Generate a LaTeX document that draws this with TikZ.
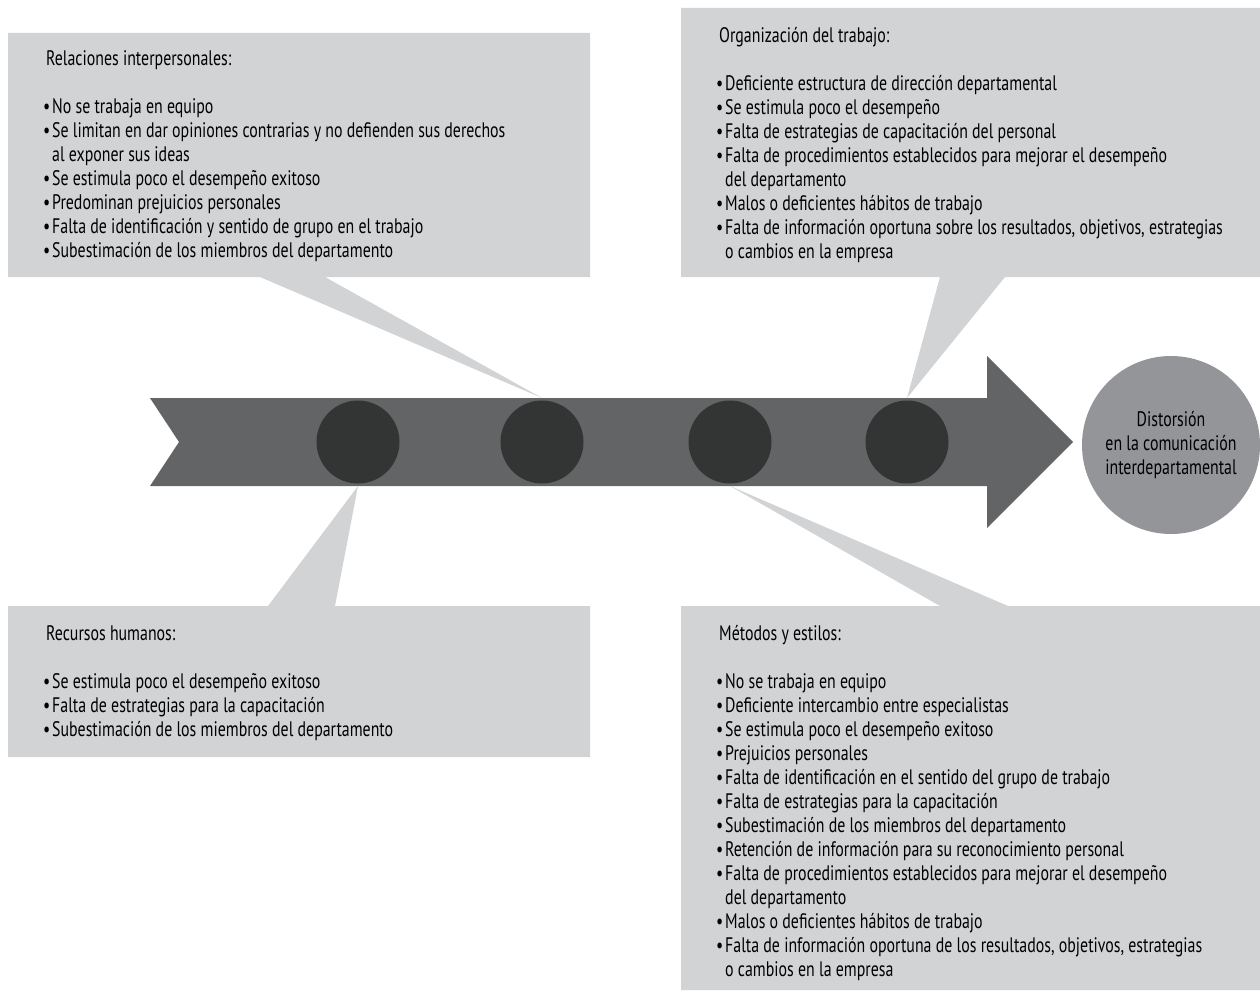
\documentclass[tikz,border=0pt]{standalone}
\usepackage{fontspec}
\setmainfont[FakeStretch=0.756]{PT Sans}
\usepackage{xcolor}
\usetikzlibrary{positioning}

\definecolor{boxgray}{HTML}{D1D3D4}
\definecolor{spinegray}{HTML}{636466}
\definecolor{dotgray}{HTML}{333535}
\definecolor{effgray}{HTML}{939598}

\newcommand{\bul}{\makebox[9pt][l]{\textbullet}}
\newcommand{\cont}{\hspace*{9pt}}

\begin{document}
\begin{tikzpicture}[x=1pt,y=-1pt,
  box/.style={fill=boxgray},
  txt/.style={anchor=base west,align=left,inner sep=0pt,font=\fontsize{21}{24}\selectfont},
  dot/.style={circle,fill=dotgray,minimum size=83pt,inner sep=0pt}]
  \useasboundingbox (0,0) rectangle (1260,990);
  % spine of the diagram
  \fill[spinegray] (150,398) -- (987,398) -- (987,356) -- (1073,442) -- (987,528)
    -- (987,486) -- (150,486) -- (179,442) -- cycle;
  \coordinate (top) at (0,398);
  \coordinate (bot) at (0,486);
  \foreach \x/\n in {358/1,542/2,730/3,907/4}
    \node[dot] (c\n) at (\x,442) {};
  \node[circle,fill=effgray,minimum size=178pt,inner sep=0pt,align=center,
    font=\fontsize{21}{24}\selectfont] (eff) at (1171,445)
    {Distorsión\\en la comunicación\\interdepartamental};

  % boxes with their tails
  \fill[box] (8,33) rectangle (590,277) (260,277) -- (c2 |- top) -- (325,277) -- cycle;
  \fill[box] (681,8) rectangle (1260,277) (940,277) -- (c4 |- top) -- (1005,277) -- cycle;
  \fill[box] (8,606) rectangle (590,757) (268,606) -- (c1 |- bot) -- (335,606) -- cycle;
  \fill[box] (681,606) rectangle (1260,990) (940,606) -- (c3 |- bot) -- (1008,606) -- cycle;

  % texts, placed by the baseline of their last line
  \node[txt] (rel) at (43,257) {\hspace*{3pt}Relaciones interpersonales:\\[24pt]
    \bul No se trabaja en equipo\\
    \bul Se limitan en dar opiniones contrarias y no defienden sus derechos\\
    \cont al exponer sus ideas\\
    \bul Se estimula poco el desempeño exitoso\\
    \bul Predominan prejuicios personales\\
    \bul Falta de identificación y sentido de grupo en el trabajo\\
    \bul Subestimación de los miembros del departamento};

  \node[txt] (org) at (716,258) {\hspace*{3pt}Organización del trabajo:\\[24pt]
    \bul Deficiente estructura de dirección departamental\\
    \bul Se estimula poco el desempeño\\
    \bul Falta de estrategias de capacitación del personal\\
    \bul Falta de procedimientos establecidos para mejorar el desempeño\\
    \cont del departamento\\
    \bul Malos o deficientes hábitos de trabajo\\
    \bul Falta de información oportuna sobre los resultados, objetivos, estrategias\\
    \cont o cambios en la empresa};

  \node[txt] (rec) at (43,736) {\hspace*{3pt}Recursos humanos:\\[24pt]
    \bul Se estimula poco el desempeño exitoso\\
    \bul Falta de estrategias para la capacitación\\
    \bul Subestimación de los miembros del departamento};

  \node[txt] (met) at (716,976) {\hspace*{3pt}Métodos y estilos:\\[24pt]
    \bul No se trabaja en equipo\\
    \bul Deficiente intercambio entre especialistas\\
    \bul Se estimula poco el desempeño exitoso\\
    \bul Prejuicios personales\\
    \bul Falta de identificación en el sentido del grupo de trabajo\\
    \bul Falta de estrategias para la capacitación\\
    \bul Subestimación de los miembros del departamento\\
    \bul Retención de información para su reconocimiento personal\\
    \bul Falta de procedimientos establecidos para mejorar el desempeño\\
    \cont del departamento\\
    \bul Malos o deficientes hábitos de trabajo\\
    \bul Falta de información oportuna de los resultados, objetivos, estrategias\\
    \cont o cambios en la empresa};
\end{tikzpicture}
\end{document}
